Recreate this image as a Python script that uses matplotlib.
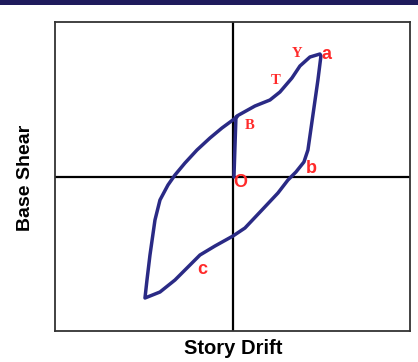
import matplotlib
matplotlib.use("Agg")
import matplotlib.pyplot as plt
from matplotlib.patches import Rectangle

# hysteresis loop (story drift, base shear), arbitrary units
loop_drift = [0.4, 2.2, 3.7, 4.7, 5.9, 6.7, 7.7, 8.7, 8.8, 8.5, 8.0, 7.5, 7.1, 6.3,
              5.5, 4.5, 2.9, 1.2, 0.0, -1.8, -3.3, -4.3, -5.8, -7.3, -8.8, -8.6,
              -8.3, -7.8, -7.3, -6.5, -5.8, -4.8, -3.6, -2.3, -1.1, 0.4]
loop_shear = [6.1, 7.1, 7.7, 8.5, 9.9, 11.1, 12.0, 12.3, 12.1, 9.7, 6.2, 2.7, 1.5, 0.5,
              -0.3, -1.6, -3.3, -5.1, -5.9, -6.9, -7.8, -8.8, -10.3, -11.5, -12.1, -10.3,
              -7.8, -4.3, -2.3, -0.8, 0.2, 1.4, 2.7, 3.9, 4.9, 6.0]

# initial loading O -> B
init_drift = [0.1, 0.3]
init_shear = [0.0, 6.0]

# point labels
label_text = ["Y", "T", "B", "O", "a", "b", "c"]
label_x = [6.4, 4.3, 1.7, 0.7, 9.4, 7.8, -3.1]
label_y = [12.4, 9.7, 5.2, -0.5, 12.3, 0.9, -9.2]
label_serif = [True, True, True, False, False, False, False]

navy = "#2a2a85"
red = "#ff2a2a"

fig = plt.figure(figsize=(4.18, 3.62), dpi=100)
fig.patches.append(Rectangle((0, 0.986), 1, 0.014, transform=fig.transFigure,
                             facecolor="#1f1b5c", edgecolor="none"))

ax = fig.add_axes([0.1316, 0.0856, 0.849, 0.8536])
ax.set_xlim(-17.8, 17.7)
ax.set_ylim(-15.4, 15.5)
ax.set_xticks([])
ax.set_yticks([])
for s in ax.spines.values():
    s.set_color("#333333")
    s.set_linewidth(1.3)

ax.axhline(0, color="black", lw=1.6, zorder=1)
ax.axvline(0, color="black", lw=1.6, zorder=1)

ax.plot(loop_drift, loop_shear, color=navy, lw=2.5, solid_joinstyle="round",
        solid_capstyle="round", zorder=3)
ax.plot(init_drift, init_shear, color=navy, lw=2.5, solid_capstyle="round", zorder=3)

for t, x, y, serif in zip(label_text, label_x, label_y, label_serif):
    if serif:
        ax.text(x, y, t, color=red, fontsize=10.5, family="Liberation Serif",
                fontweight="bold", ha="center", va="center", zorder=4)
    else:
        ax.text(x, y, t, color=red, fontsize=13, family="Liberation Sans",
                fontweight="bold", ha="center", va="center", zorder=4)

fig.text(0.557, 0.036, "Story Drift", ha="center", va="center",
         family="Liberation Sans", fontweight="bold", fontsize=14.5)
fig.text(0.06, 0.508, "Base Shear", ha="center", va="center", rotation=90,
         family="Liberation Sans", fontweight="bold", fontsize=14)

fig.savefig("out.png", dpi=100)
